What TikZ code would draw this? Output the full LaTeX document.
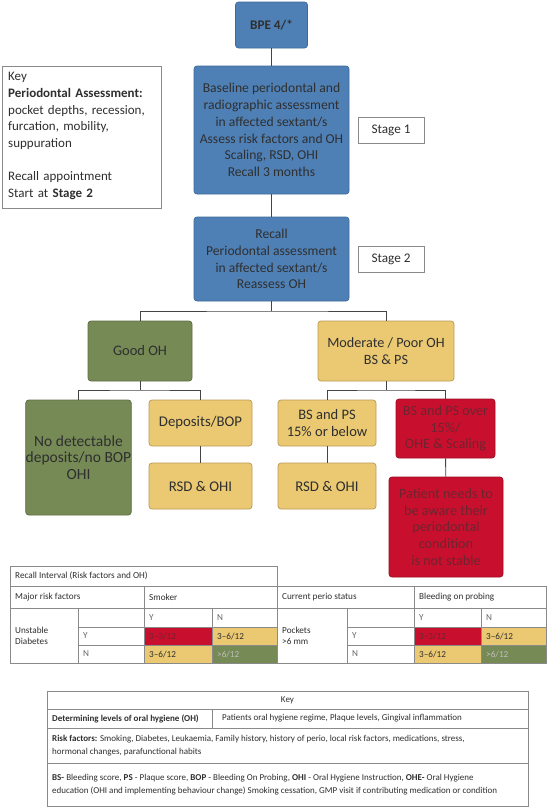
\documentclass[tikz,border=0pt]{standalone}
\usepackage{fontspec}
\setmainfont{Carlito}
\definecolor{bfill}{HTML}{4E80B6}
\definecolor{bdraw}{HTML}{3E6B9C}
\definecolor{gfill}{HTML}{768A56}
\definecolor{gdraw}{HTML}{5E6E44}
\definecolor{yfill}{HTML}{EBC973}
\definecolor{ydraw}{HTML}{B89A55}
\definecolor{rfill}{HTML}{C8102E}
\definecolor{rdraw}{HTML}{A00C24}
\definecolor{rtext}{HTML}{6E2430}
\definecolor{maintext}{HTML}{2F2F2F}
\definecolor{linec}{HTML}{444444}
\definecolor{tline}{HTML}{8A8A8A}
\definecolor{ytext}{HTML}{666666}
\begin{document}
\begin{tikzpicture}[x=1pt,y=-1pt,
  every node/.style={text=maintext,inner sep=0pt},
  box/.style={rounded corners=3pt,line width=0.7pt,align=center,
    font=\fontsize{13.6}{16.7}\selectfont},
  bluebox/.style={box,fill=bfill,draw=bdraw},
  greenbox/.style={box,fill=gfill,draw=gdraw},
  yellowbox/.style={box,fill=yfill,draw=ydraw},
  redbox/.style={box,fill=rfill,draw=rdraw,text=rtext},
  labelbox/.style={draw=tline,fill=white,line width=0.6pt,align=center,
    font=\fontsize{13.2}{15}\selectfont},
  conn/.style={draw=linec,line width=0.9pt},
  tcell/.style={anchor=west,align=left,font=\fontsize{9.2}{11}\selectfont},
  kcell/.style={anchor=west,align=left,font=\fontsize{9}{13}\selectfont},
  tgrid/.style={draw=tline,line width=0.6pt}
]
\useasboundingbox (0,0) rectangle (550,809);
\fill[white] (0,0) rectangle (550,809);

% ---- flow boxes
\node[bluebox,minimum width=72pt,minimum height=46pt,font=\fontsize{13.2}{15}\selectfont\bfseries] (bpe) at (271.5,25) {BPE 4/*};
\node[bluebox,minimum width=155pt,minimum height=128pt] (s1) at (271.5,130)
  {Baseline periodontal and\\radiographic assessment\\in affected sextant/s\\Assess risk factors and OH\\Scaling, RSD, OHI\\Recall 3 months};
\node[labelbox,minimum width=66pt,minimum height=26pt] (lab1) at (391,130) {Stage 1};
\node[bluebox,minimum width=155pt,minimum height=84pt] (recall) at (271.5,259)
  {Recall\\Periodontal assessment\\in affected sextant/s\\Reassess OH};
\node[labelbox,minimum width=66pt,minimum height=26pt] (lab2) at (391,259) {Stage 2};

\node[draw=tline,fill=white,line width=0.6pt,minimum width=159pt,minimum height=142pt] (keyb) at (81.5,137) {};
\node[anchor=west,align=left,text width=150pt,font=\fontsize{13}{16.6}\selectfont] (keyt) at (8,136)
  {Key\\\textbf{Periodontal Assessment:}\\pocket depths, recession,\\furcation, mobility,\\suppuration\\[16.6pt]Recall appointment\\Start at \textbf{Stage 2}};

\node[greenbox,minimum width=104pt,minimum height=60pt,font=\fontsize{14.5}{16.7}\selectfont] (good) at (140,351) {Good OH};
\node[yellowbox,minimum width=136pt,minimum height=60pt,font=\fontsize{14.2}{16.7}\selectfont] (mod) at (386,351) {Moderate / Poor OH\\BS \& PS};

\node[greenbox,minimum width=103pt,minimum height=115pt,font=\fontsize{15.5}{16.8}\selectfont] (nodep) at (78.5,457.5) {No detectable\\deposits/no BOP\\OHI};
\node[yellowbox,minimum width=103pt,minimum height=46pt,font=\fontsize{14.8}{16.7}\selectfont] (dep) at (200.5,423) {Deposits/BOP};
\node[yellowbox,minimum width=103pt,minimum height=46pt,font=\fontsize{14.8}{16.7}\selectfont] (rsdl) at (200.5,486) {RSD \& OHI};
\node[yellowbox,minimum width=98pt,minimum height=46pt,font=\fontsize{14.5}{16.7}\selectfont] (bs15) at (327,423) {BS and PS\\15\% or below};
\node[yellowbox,minimum width=98pt,minimum height=46pt,font=\fontsize{14.8}{16.7}\selectfont] (rsdr) at (327,486) {RSD \& OHI};
\node[redbox,minimum width=99pt,minimum height=59pt,font=\fontsize{14.2}{16.7}\selectfont] (redbs) at (445.5,428.5) {BS and PS over\\15\%/\\OHE \& Scaling};
\node[redbox,minimum width=114pt,minimum height=100pt,font=\fontsize{14.2}{16.7}\selectfont] (pat) at (446,527) {Patient needs to\\be aware their\\periodontal\\condition\\is not stable};

% ---- connectors
\coordinate (j1) at (271.5,311);
\coordinate (j2) at (140,390);
\coordinate (j3) at (386,390);
\draw[conn] (bpe) -- (s1);
\draw[conn] (s1) -- (recall);
\draw[conn] (recall.south) -- (j1);
\draw[conn] (good.north) |- (j1) -| (mod.north);
\draw[conn] (good.south) -- (j2);
\draw[conn] (nodep.north) |- (j2) -| (dep.north);
\draw[conn] (dep) -- (rsdl);
\draw[conn] (mod.south) -- (j3);
\draw[conn] (bs15.north) |- (j3) -| (redbs.north);
\draw[conn] (bs15) -- (rsdr);
\draw[conn] (redbs) -- (pat);

% ---- recall interval table
\fill[rfill] (144,627) rectangle (212,645);
\fill[yfill] (212,627) rectangle (277,645);
\fill[yfill] (144,645) rectangle (212,663);
\fill[gfill] (212,645) rectangle (277,663);
\fill[rfill] (414,627) rectangle (481,645);
\fill[yfill] (481,627) rectangle (546,645);
\fill[yfill] (414,645) rectangle (481,663);
\fill[gfill] (481,645) rectangle (546,663);
\draw[tgrid] (10,566) rectangle (277,586);
\draw[tgrid] (10,586) rectangle (546,663);
\draw[tgrid] (10,608) -- (546,608);
\draw[tgrid] (78,627) -- (277,627) (78,645) -- (277,645);
\draw[tgrid] (347,627) -- (546,627) (347,645) -- (546,645);
\draw[tgrid] (144,586) -- (144,663) (277,586) -- (277,663) (414,586) -- (414,663);
\draw[tgrid] (78,608) -- (78,663) (212,608) -- (212,663);
\draw[tgrid] (347,608) -- (347,663) (481,608) -- (481,663);

\node[tcell] (t0) at (15,576) {Recall Interval (Risk factors and OH)};
\node[tcell] (t1) at (15,597) {Major risk factors};
\node[tcell] (t2) at (149,597) {Smoker};
\node[tcell] (t3) at (282,597) {Current perio status};
\node[tcell] (t4) at (419,597) {Bleeding on probing};
\node[tcell] (t5) at (15,635.5) {Unstable\\Diabetes};
\node[tcell,text=ytext] (t6) at (149,617.5) {Y};
\node[tcell,text=ytext] (t7) at (217,617.5) {N};
\node[tcell,text=ytext] (t8) at (83,636) {Y};
\node[tcell,text=ytext] (t9) at (83,654) {N};
\node[tcell,text=rtext] (t10) at (149,636) {3--3/12};
\node[tcell] (t11) at (217,636) {3--6/12};
\node[tcell] (t12) at (149,654) {3--6/12};
\node[tcell,text=white!75!black] (t13) at (217,654) {>6/12};
\node[tcell] (u5) at (282,635.5) {Pockets\\>6 mm};
\node[tcell,text=ytext] (u6) at (419,617.5) {Y};
\node[tcell,text=ytext] (u7) at (486,617.5) {N};
\node[tcell,text=ytext] (u8) at (352,636) {Y};
\node[tcell,text=ytext] (u9) at (352,654) {N};
\node[tcell,text=rtext] (u10) at (419,636) {3--3/12};
\node[tcell] (u11) at (486,636) {3--6/12};
\node[tcell] (u12) at (419,654) {3--6/12};
\node[tcell,text=white!75!black] (u13) at (486,654) {>6/12};

% ---- key table
\draw[tgrid] (47,691) rectangle (528,806);
\draw[tgrid] (47,709) -- (528,709) (47,728) -- (528,728) (47,763) -- (528,763);
\draw[tgrid] (212,709) -- (212,728);
\node[font=\fontsize{9}{10}\selectfont] (k0) at (287.5,700) {Key};
\node[kcell] (k1) at (52,718.5) {\textbf{Determining levels of oral hygiene (OH)}};
\node[kcell] (k2) at (222,718.5) {Patients oral hygiene regime, Plaque levels, Gingival inflammation};
\node[kcell] (k3) at (52,745.5) {\textbf{Risk factors:} Smoking, Diabetes, Leukaemia, Family history, history of perio, local risk factors, medications, stress,\\hormonal changes, parafunctional habits};
\node[kcell] (k4) at (52,784.5) {\textbf{BS-} Bleeding score, \textbf{PS} - Plaque score, \textbf{BOP} - Bleeding On Probing, \textbf{OHI} - Oral Hygiene Instruction, \textbf{OHE-} Oral Hygiene\\education (OHI and implementing behaviour change) Smoking cessation, GMP visit if contributing medication or condition};
\end{tikzpicture}
\end{document}
